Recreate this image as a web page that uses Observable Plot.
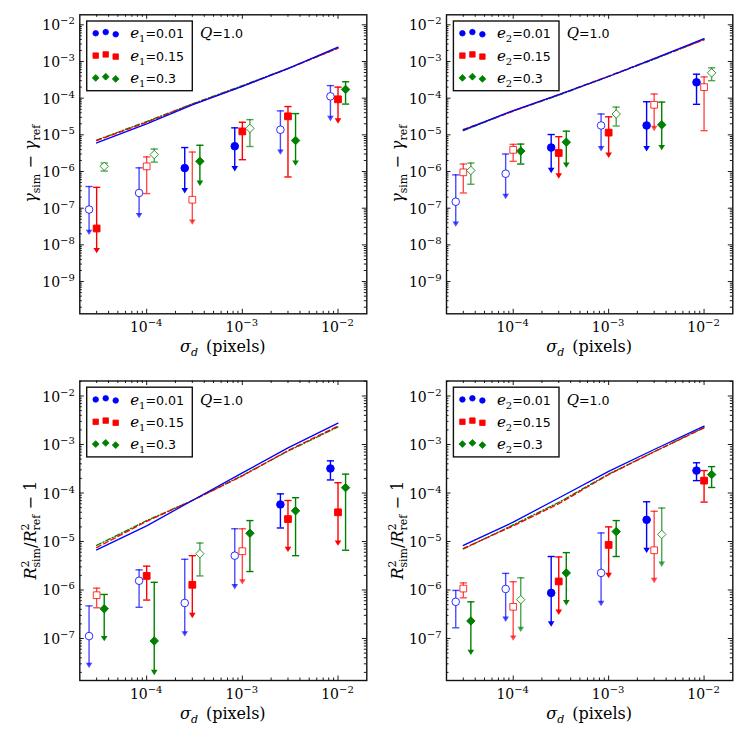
<!DOCTYPE html>
<html><head><meta charset="utf-8">
<script src="https://cdn.jsdelivr.net/npm/d3@7"></script>
<script src="https://cdn.jsdelivr.net/npm/@observablehq/plot@0.6"></script>
<style>
body{margin:0;background:#fff;}
#wrap{position:relative;width:747px;height:747px;background:#fff;overflow:hidden;}
#wrap svg{position:absolute;}
</style></head><body><div id="wrap"></div>
<script>
// ---------- data ----------
const sigma = [3e-5, 1e-4, 3e-4, 1e-3, 3e-3, 1e-2];
const seriesColor = ["#0000ff", "#ff0000", "#008000"];
const seriesShift = [1 / 1.2, 1, 1.2];
const seriesSymbol = ["circle", "square", "diamond2"];
const legendValues = ["0.01", "0.15", "0.3"];
const xTickValues = [1e-4, 1e-3, 1e-2];
const xTickExps = ["4", "3", "2"];
const yTickTop = [1e-9, 1e-8, 1e-7, 1e-6, 1e-5, 1e-4, 1e-3, 1e-2];
const yTickTopExps = ["9", "8", "7", "6", "5", "4", "3", "2"];
const yTickBot = [1e-7, 1e-6, 1e-5, 1e-4, 1e-3, 1e-2];
const yTickBotExps = ["7", "6", "5", "4", "3", "2"];

// panel TL : gamma, e1
const tlBlueVal = [9.2e-8, 2.6e-7, 1.24e-6, 4.9e-6, 1.38e-5, 1.12e-4];
const tlBlueHi  = [3.9e-7, 1.26e-6, 4.5e-6, 1.55e-5, 4.5e-5, 2.2e-4];
const tlBlueLo  = [2.2e-8, 6.3e-8, 3.0e-7, 1.2e-6, 3.4e-6, 2.8e-5];
const tlBlueCode = ["oa", "oa", "fa", "fa", "oa", "oa"];
const tlRedVal = [2.8e-8, 1.38e-6, 1.7e-7, 1.24e-5, 3.2e-5, 9.3e-5];
const tlRedHi  = [3.7e-7, 2.5e-6, 3.4e-6, 2.2e-5, 5.9e-5, 2.0e-4];
const tlRedLo  = [7e-9, 2.5e-7, 4.2e-8, 2.1e-6, 7.1e-7, 2.4e-5];
const tlRedCode = ["fa", "oc", "oa", "fc", "fc", "fa"];
const tlGreenVal = [1.39e-6, 2.9e-6, 1.9e-6, 1.5e-5, 7.0e-6, 1.73e-4];
const tlGreenHi  = [1.7e-6, 4.1e-6, 5.2e-6, 2.6e-5, 3.8e-5, 2.8e-4];
const tlGreenLo  = [1.03e-6, 1.8e-6, 4.8e-7, 4.8e-6, 1.7e-6, 6.9e-5];
const tlGreenCode = ["oc", "oc", "fa", "oc", "fa", "fc"];
const tlBlueLine  = [6.0e-6, 2.0e-5, 6.6e-5, 2.1e-4, 6.4e-4, 2.45e-3];
const tlRedLine   = [7.0e-6, 2.2e-5, 6.8e-5, 2.1e-4, 6.4e-4, 2.3e-3];
const tlGreenLine = [7.2e-6, 2.3e-5, 7.0e-5, 2.2e-4, 6.5e-4, 2.3e-3];

// panel TR : gamma, e2
const trBlueVal = [1.5e-7, 8.7e-7, 4.5e-6, 1.8e-5, 1.8e-5, 2.7e-4];
const trBlueHi  = [8.1e-7, 3.0e-6, 1.02e-5, 3.7e-5, 8.0e-5, 4.5e-4];
const trBlueLo  = [3.7e-8, 2.1e-7, 1.07e-6, 4.2e-6, 4.2e-6, 6.8e-5];
const trBlueCode = ["oa", "oa", "fa", "oa", "fa", "fc"];
const trRedVal = [9.5e-7, 3.9e-6, 3.2e-6, 1.15e-5, 6.6e-5, 2.0e-4];
const trRedHi  = [1.6e-6, 5.5e-6, 8.9e-6, 3.1e-5, 1.3e-4, 3.8e-4];
const trRedLo  = [2.6e-7, 1.9e-6, 7.6e-7, 2.8e-6, 1.5e-5, 1.3e-5];
const trRedCode = ["oc", "oc", "fa", "fa", "oa", "oc"];
const trGreenVal = [1.07e-6, 3.6e-6, 6.3e-6, 3.7e-5, 1.88e-5, 4.9e-4];
const trGreenHi  = [1.7e-6, 5.6e-6, 1.26e-5, 5.7e-5, 7.8e-5, 6.7e-4];
const trGreenLo  = [4.5e-7, 1.6e-6, 1.5e-6, 1.74e-5, 4.5e-6, 3.0e-4];
const trGreenCode = ["oc", "fc", "fa", "oc", "fa", "oc"];
const trBlueLine  = [1.35e-5, 4.6e-5, 1.25e-4, 3.9e-4, 1.2e-3, 4.2e-3];
const trRedLine   = [1.4e-5, 4.4e-5, 1.25e-4, 4.0e-4, 1.2e-3, 3.9e-3];
const trGreenLine = [1.3e-5, 4.5e-5, 1.2e-4, 3.9e-4, 1.15e-3, 4.0e-3];

// panel BL : R2, e1
const blBlueVal = [1.12e-7, 1.55e-6, 5.4e-7, 5.1e-6, 5.8e-5, 3.2e-4];
const blBlueHi  = [4.7e-7, 2.6e-6, 4.3e-6, 1.83e-5, 9.6e-5, 4.6e-4];
const blBlueLo  = [2.8e-8, 4.4e-7, 1.25e-7, 1.17e-6, 1.9e-5, 1.86e-4];
const blBlueCode = ["oa", "oc", "oa", "oa", "fc", "fc"];
const blRedVal = [7.8e-7, 1.95e-6, 1.28e-6, 6.3e-6, 2.9e-5, 4.0e-5];
const blRedHi  = [1.09e-6, 3.1e-6, 5.1e-6, 1.83e-5, 7.0e-5, 1.63e-4];
const blRedLo  = [4.3e-7, 6.2e-7, 3.0e-7, 1.48e-6, 6.9e-6, 9.3e-6];
const blRedCode = ["oc", "fc", "fa", "oa", "fa", "fa"];
const blGreenVal = [4.1e-7, 8.9e-8, 5.6e-6, 1.48e-5, 4.3e-5, 1.29e-4];
const blGreenHi  = [8.1e-7, 1.44e-6, 9.3e-6, 2.7e-5, 8.0e-5, 2.45e-4];
const blGreenLo  = [1.0e-7, 2.0e-8, 1.95e-6, 2.4e-6, 5.1e-6, 6.6e-6];
const blGreenCode = ["fa", "fa", "oc", "fc", "fc", "fc"];
const blBlueLine  = [6.7e-6, 2.1e-5, 7.0e-5, 2.6e-4, 8.5e-4, 2.75e-3];
const blRedLine   = [7.5e-6, 2.6e-5, 7.0e-5, 2.25e-4, 7.5e-4, 2.4e-3];
const blGreenLine = [8.3e-6, 2.7e-5, 7.0e-5, 2.3e-4, 7.3e-4, 2.3e-3];

// panel BR : R2, e2
const brBlueVal = [5.7e-7, 1.05e-6, 8.7e-7, 2.25e-6, 2.8e-5, 2.9e-4];
const brBlueHi  = [9.8e-7, 2.2e-6, 4.9e-6, 1.5e-5, 6.6e-5, 4.2e-4];
const brBlueLo  = [1.66e-7, 2.5e-7, 2.0e-7, 5.3e-7, 6.6e-6, 1.8e-4];
const brBlueCode = ["oc", "oa", "fa", "oa", "fa", "fc"];
const brRedVal = [1.07e-6, 4.5e-7, 1.5e-6, 8.5e-6, 6.6e-6, 1.8e-4];
const brRedHi  = [1.4e-6, 1.48e-6, 4.8e-6, 2.0e-5, 4.2e-5, 2.9e-4];
const brRedLo  = [6.9e-7, 1.02e-7, 3.5e-7, 2.0e-6, 1.58e-6, 6.5e-5];
const brRedCode = ["oc", "oa", "fa", "fa", "oa", "fc"];
const brGreenVal = [2.3e-7, 6.3e-7, 2.25e-6, 1.6e-5, 1.4e-5, 2.4e-4];
const brGreenHi  = [5.7e-7, 1.78e-6, 5.9e-6, 2.7e-5, 4.9e-5, 3.5e-4];
const brGreenLo  = [5.2e-8, 1.55e-7, 5.5e-7, 4.9e-6, 3.4e-6, 1.3e-4];
const brGreenCode = ["fa", "oa", "fa", "fc", "oa", "fc"];
const brBlueLine  = [8.3e-6, 2.5e-5, 7.9e-5, 2.8e-4, 7.9e-4, 2.4e-3];
const brRedLine   = [7.2e-6, 2.1e-5, 6.0e-5, 2.4e-4, 7.1e-4, 2.2e-3];
const brGreenLine = [7.0e-6, 2.2e-5, 6.4e-5, 2.45e-4, 7.1e-4, 2.25e-3];

// ---------- layout ----------
const panels = [
  {left: 0, top: 0, W: 373, H: 370, mL: 79.3, mR: 6.7, mT: 14.3, mB: 56.7,
   ydomain: [1.32e-10, 1.875e-2], yt: yTickTop, yte: yTickTopExps, ylab: "gamma", sub: "1",
   series: [
     {val: tlBlueVal, hi: tlBlueHi, lo: tlBlueLo, code: tlBlueCode, line: tlBlueLine},
     {val: tlRedVal, hi: tlRedHi, lo: tlRedLo, code: tlRedCode, line: tlRedLine},
     {val: tlGreenVal, hi: tlGreenHi, lo: tlGreenLo, code: tlGreenCode, line: tlGreenLine}]},
  {left: 374, top: 0, W: 373, H: 370, mL: 72, mR: 14.7, mT: 14.3, mB: 56.7,
   ydomain: [1.32e-10, 1.875e-2], yt: yTickTop, yte: yTickTopExps, ylab: "gamma", sub: "2",
   series: [
     {val: trBlueVal, hi: trBlueHi, lo: trBlueLo, code: trBlueCode, line: trBlueLine},
     {val: trRedVal, hi: trRedHi, lo: trRedLo, code: trRedCode, line: trRedLine},
     {val: trGreenVal, hi: trGreenHi, lo: trGreenLo, code: trGreenCode, line: trGreenLine}]},
  {left: 0, top: 370, W: 373, H: 377, mL: 79.3, mR: 6.7, mT: 10.5, mB: 67,
   ydomain: [1.36e-8, 2.04e-2], yt: yTickBot, yte: yTickBotExps, ylab: "R2", sub: "1",
   series: [
     {val: blBlueVal, hi: blBlueHi, lo: blBlueLo, code: blBlueCode, line: blBlueLine},
     {val: blRedVal, hi: blRedHi, lo: blRedLo, code: blRedCode, line: blRedLine},
     {val: blGreenVal, hi: blGreenHi, lo: blGreenLo, code: blGreenCode, line: blGreenLine}]},
  {left: 374, top: 370, W: 373, H: 377, mL: 72, mR: 14.7, mT: 10.5, mB: 67,
   ydomain: [1.36e-8, 2.04e-2], yt: yTickBot, yte: yTickBotExps, ylab: "R2", sub: "2",
   series: [
     {val: brBlueVal, hi: brBlueHi, lo: brBlueLo, code: brBlueCode, line: brBlueLine},
     {val: brRedVal, hi: brRedHi, lo: brRedLo, code: brRedCode, line: brRedLine},
     {val: brGreenVal, hi: brGreenHi, lo: brGreenLo, code: brGreenCode, line: brGreenLine}]}
];

const capSym = {draw(ctx) { ctx.moveTo(-3.6, 0); ctx.lineTo(3.6, 0); }};
const arrowSym = {draw(ctx) { ctx.moveTo(-3.3, -2.6); ctx.lineTo(3.3, -2.6); ctx.lineTo(0, 2.8); ctx.closePath(); }};
const dashes = [null, "5,3", "5,2,1.2,2"];

function minorTicks(lo, hi) {
  const out = [];
  for (let e = Math.floor(Math.log10(lo)); e <= Math.ceil(Math.log10(hi)); e++)
    for (let m = 2; m <= 9; m++) { const v = m * Math.pow(10, e); if (v > lo && v < hi) out.push(v); }
  return out;
}

const wrap = document.getElementById("wrap");
const SERIF = "'DejaVu Serif', serif";
const SANS = "'DejaVu Sans', sans-serif";

panels.forEach(p => {
  const fw = p.W - p.mL - p.mR, fh = p.H - p.mT - p.mB;
  const rows = [], lines = [];
  p.series.forEach((s, si) => {
    s.val.forEach((v, i) => rows.push({si, x: sigma[i] * seriesShift[si], v, hi: s.hi[i], lo: s.lo[i],
      open: s.code[i][0] === "o", arrow: s.code[i][1] === "a"}));
    s.line.forEach((v, i) => lines.push({si, x: sigma[i], v}));
  });
  const xdomain = [2e-5, 2e-2];
  const marks = [];
  // lines
  [2, 1, 0].forEach(si => {
    marks.push(Plot.line(lines.filter(d => d.si === si), {x: "x", y: "v", stroke: seriesColor[si], strokeWidth: 1.3,
      strokeDasharray: dashes[si]}));
  });
  // error bars, caps, arrows, markers
  [0, 1, 2].forEach(si => {
    [false, true].forEach(open => {
      const R = rows.filter(d => d.si === si && d.open === open);
      const op = open ? 0.7 : 1;
      const c = seriesColor[si];
      marks.push(Plot.ruleX(R, {x: "x", y1: "lo", y2: "hi", stroke: c, strokeOpacity: op, strokeWidth: 1.4}));
      marks.push(Plot.dot(R, {x: "x", y: "hi", symbol: capSym, fill: "none", stroke: c, strokeOpacity: op, strokeWidth: 1.4}));
      marks.push(Plot.dot(R.filter(d => !d.arrow), {x: "x", y: "lo", symbol: capSym, fill: "none", stroke: c, strokeOpacity: op, strokeWidth: 1.4}));
      marks.push(Plot.dot(R.filter(d => d.arrow), {x: "x", y: "lo", symbol: arrowSym, fill: c, fillOpacity: op, stroke: "none"}));
      marks.push(Plot.dot(R, {x: "x", y: "v", symbol: seriesSymbol[si], r: 3.8,
        fill: open ? "white" : c, stroke: c, strokeOpacity: open ? 0.8 : 1, strokeWidth: 1}));
    });
  });
  // frame and inward ticks on all sides
  const xMinor = minorTicks(xdomain[0], xdomain[1]);
  const yMinor = minorTicks(p.ydomain[0], p.ydomain[1]);
  const tk = {stroke: "black", strokeWidth: 0.9};
  marks.push(
    Plot.tickX(xTickValues, {x: d => d, insetTop: fh - 4.5, ...tk}),
    Plot.tickX(xTickValues, {x: d => d, insetBottom: fh - 4.5, ...tk}),
    Plot.tickX(xMinor, {x: d => d, insetTop: fh - 2.5, ...tk}),
    Plot.tickX(xMinor, {x: d => d, insetBottom: fh - 2.5, ...tk}),
    Plot.tickY(p.yt, {y: d => d, insetRight: fw - 4.5, ...tk}),
    Plot.tickY(p.yt, {y: d => d, insetLeft: fw - 4.5, ...tk}),
    Plot.tickY(yMinor, {y: d => d, insetRight: fw - 2.5, ...tk}),
    Plot.tickY(yMinor, {y: d => d, insetLeft: fw - 2.5, ...tk}),
    Plot.frame({stroke: "#111", strokeWidth: 1.4})
  );

  const plot = Plot.plot({
    width: p.W, height: p.H,
    marginLeft: p.mL, marginRight: p.mR, marginTop: p.mT, marginBottom: p.mB,
    x: {type: "log", domain: xdomain, axis: null},
    y: {type: "log", domain: p.ydomain, axis: null},
    style: {background: "white", overflow: "visible"},
    marks
  });
  plot.style.left = p.left + "px";
  plot.style.top = p.top + "px";
  wrap.appendChild(plot);

  const sx = plot.scale("x"), sy = plot.scale("y");
  const svg = d3.select(plot);
  const g = svg.append("g").attr("fill", "black").attr("text-anchor", "start");
  const bottom = p.mT + fh;
  // x tick labels
  xTickValues.forEach((v, i) => {
    const t = g.append("text").attr("x", sx.apply(v)).attr("y", bottom + 19)
      .attr("text-anchor", "middle").attr("font-family", SERIF).attr("font-size", 14);
    t.append("tspan").text("10");
    t.append("tspan").attr("dy", -6).attr("font-size", 10).text("−" + xTickExps[i]);
  });
  // y tick labels
  p.yt.forEach((v, i) => {
    const t = g.append("text").attr("x", p.mL - 4.5).attr("y", sy.apply(v) + 6)
      .attr("text-anchor", "end").attr("font-family", SERIF).attr("font-size", 14);
    t.append("tspan").text("10");
    t.append("tspan").attr("dy", -6).attr("font-size", 10).text("−" + p.yte[i]);
  });
  // x label
  const xl = g.append("text").attr("x", p.mL + fw / 2).attr("y", bottom + 39)
    .attr("text-anchor", "middle").attr("font-family", SERIF).attr("font-size", 16);
  xl.append("tspan").attr("font-style", "italic").text("σ");
  xl.append("tspan").attr("font-style", "italic").attr("font-size", 11).attr("dy", 4).text("d");
  xl.append("tspan").attr("dy", -4).text("\u2002(pixels)");
  // y label
  const yl = g.append("text").attr("transform", `translate(${p.mL - 43},${p.mT + fh / 2}) rotate(-90)`)
    .attr("text-anchor", "middle").attr("font-family", SERIF).attr("font-size", 16);
  if (p.ylab === "gamma") {
    yl.append("tspan").attr("font-style", "italic").text("γ");
    yl.append("tspan").attr("font-size", 11).attr("dy", 4).text("sim");
    yl.append("tspan").attr("dy", -4).text(" − ");
    yl.append("tspan").attr("font-style", "italic").text("γ");
    yl.append("tspan").attr("font-size", 11).attr("dy", 4).text("ref");
    yl.append("tspan").attr("dy", -4).text("");
  } else {
    yl.append("tspan").attr("font-style", "italic").text("R");
    yl.append("tspan").attr("font-size", 11).attr("dy", -7).text("2");
    yl.append("tspan").attr("font-size", 11).attr("dy", 11).attr("dx", -7).text("sim");
    yl.append("tspan").attr("dy", -4).text("/");
    yl.append("tspan").attr("font-style", "italic").text("R");
    yl.append("tspan").attr("font-size", 11).attr("dy", -7).text("2");
    yl.append("tspan").attr("font-size", 11).attr("dy", 11).attr("dx", -7).text("ref");
    yl.append("tspan").attr("dy", -4).text(" − 1");
  }
  // legend
  const bx = p.mL + 7.4, by = p.mT + 6.7;
  const lg = svg.append("g").attr("text-anchor", "start");
  lg.append("rect").attr("x", bx).attr("y", by).attr("width", 105.6).attr("height", 69.7)
    .attr("fill", "white").attr("stroke", "#111").attr("stroke-width", 1.4);
  const symTypes = [d3.symbolCircle, d3.symbolSquare, d3.symbolDiamond2];
  const symSizes = [24, 30, 30];
  const yoff = [0, -1.2, 1];
  [0, 1, 2].forEach(si => {
    const ry = by + 12.3 + si * 22.3;
    [0, 1, 2].forEach(k => {
      lg.append("path").attr("d", d3.symbol(symTypes[si], symSizes[si])())
        .attr("transform", `translate(${bx + 9 + 10 * k},${ry + yoff[k]})`)
        .attr("fill", seriesColor[si]).attr("stroke", seriesColor[si]).attr("stroke-width", 0.8);
    });
    const t = lg.append("text").attr("x", bx + 43.5).attr("y", ry + 5).attr("fill", "black").attr("text-anchor", "start");
    t.append("tspan").attr("font-family", SERIF).attr("font-style", "italic").attr("font-size", 15).text("e");
    t.append("tspan").attr("font-family", SERIF).attr("font-size", 10).attr("dy", 4).text(p.sub);
    t.append("tspan").attr("font-family", SANS).attr("font-size", 12.6).attr("dy", -4).text("=" + legendValues[si]);
  });
  const q = lg.append("text").attr("x", p.mL + 120.7).attr("y", p.mT + 24).attr("fill", "black").attr("text-anchor", "start");
  q.append("tspan").attr("font-family", SERIF).attr("font-style", "italic").attr("font-size", 15).text("Q");
  q.append("tspan").attr("font-family", SANS).attr("font-size", 12.6).text("=1.0");
});
</script>
</body></html>
